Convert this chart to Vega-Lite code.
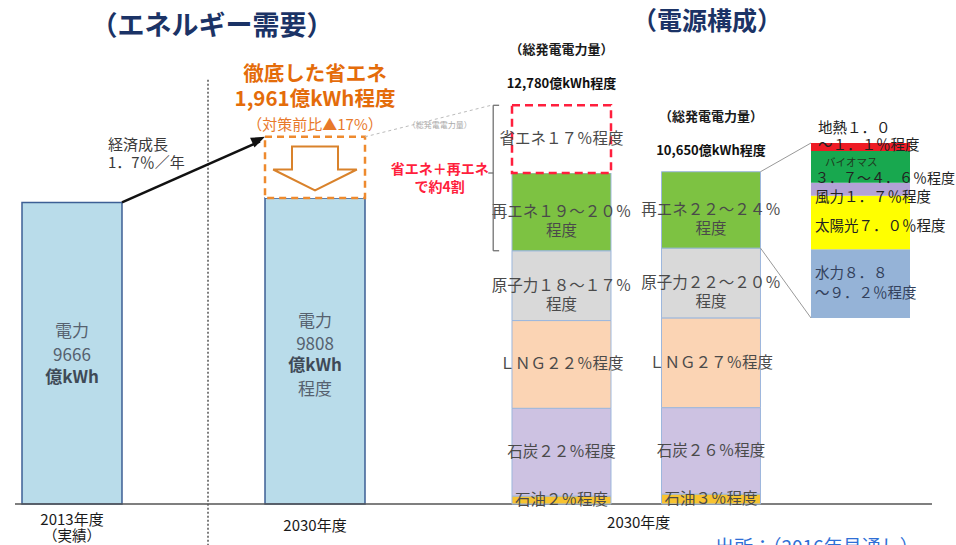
{
  "$schema": "https://vega.github.io/schema/vega-lite/v6.json",
  "width": 956,
  "height": 545,
  "autosize": {"type": "none"},
  "padding": 0,
  "background": "#FFFFFF",
  "config": {
    "view": {"stroke": null},
    "axis": {"disable": true},
    "legend": {"disable": true},
    "text": {"font": "Noto Sans CJK JP"}
  },
  "datasets": {
    "demand": [
      {"year": "2013年度", "kWh": 9666, "note": "（実績）"},
      {"year": "2030年度", "kWh": 9808, "saving": 1961}
    ],
    "mix": [
      {"bar": "総量", "source": "石油", "order": 1, "value": 256, "label": "石油２％程度"},
      {"bar": "総量", "source": "石炭", "order": 2, "value": 2812, "label": "石炭２２％程度"},
      {"bar": "総量", "source": "LNG", "order": 3, "value": 2812, "label": "ＬＮＧ２２％程度"},
      {"bar": "総量", "source": "原子力", "order": 4, "value": 2237, "label": "原子力１８～１７％|程度"},
      {"bar": "総量", "source": "再エネ", "order": 5, "value": 2492, "label": "再エネ１９～２０％|程度"},
      {"bar": "総量", "source": "省エネ", "order": 6, "value": 2171, "label": "省エネ１７％程度"},
      {"bar": "発電", "source": "石油", "order": 1, "value": 320, "label": "石油３％程度"},
      {"bar": "発電", "source": "石炭", "order": 2, "value": 2769, "label": "石炭２６％程度"},
      {"bar": "発電", "source": "LNG", "order": 3, "value": 2876, "label": "ＬＮＧ２７％程度"},
      {"bar": "発電", "source": "原子力", "order": 4, "value": 2236, "label": "原子力２２～２０％|程度"},
      {"bar": "発電", "source": "再エネ", "order": 5, "value": 2449, "label": "再エネ２２～２４％|程度"}
    ],
    "totals": [
      {"bar": "総量", "total": 12780, "label": "12,780億kWh程度"},
      {"bar": "発電", "total": 10650, "label": "10,650億kWh程度"}
    ],
    "renewables": [
      {"bar": "内訳", "source": "水力", "order": 1, "share": 9.0},
      {"bar": "内訳", "source": "太陽光", "order": 2, "share": 7.0},
      {"bar": "内訳", "source": "風力", "order": 3, "share": 1.7},
      {"bar": "内訳", "source": "バイオマス", "order": 4, "share": 4.15},
      {"bar": "内訳", "source": "地熱", "order": 5, "share": 1.05}
    ]
  },
  "layer": [
    {
      "layer": [
        {
          "data": {"name": "demand"},
          "mark": {"type": "bar", "fill": "#B9DCEA", "stroke": "#3D5F95", "strokeWidth": 1.5},
          "encoding": {
            "x": {"field": "year", "type": "nominal", "scale": {"domain": ["2013年度", "2030年度"], "range": [22, 365], "paddingInner": 0.5885, "paddingOuter": 0}},
            "y": {"field": "kWh", "type": "quantitative", "scale": {"domain": [-1314, 16154], "nice": false, "zero": false}},
            "y2": {"datum": 0}
          }
        },
        {
          "data": {"values": [{}]},
          "mark": {"type": "rule", "stroke": "#555555", "strokeWidth": 1.5},
          "encoding": {
            "x": {"datum": "2013年度", "type": "nominal", "bandPosition": -0.07},
            "x2": {"datum": "2030年度", "bandPosition": 6.67},
            "y": {"datum": 0, "type": "quantitative"}
          }
        },
        {
          "data": {"name": "demand"},
          "transform": [
            {"filter": "datum.saving > 0"},
            {"calculate": "datum.kWh + datum.saving", "as": "top"}
          ],
          "mark": {"type": "bar", "fill": "#FFFFFF", "stroke": "#EE8A2E", "strokeWidth": 2.5, "strokeDash": [7, 5]},
          "encoding": {
            "x": {"field": "year", "type": "nominal"},
            "y": {"field": "kWh", "type": "quantitative"},
            "y2": {"field": "top"}
          }
        },
        {
          "data": {"name": "demand"},
          "transform": [
            {"filter": "datum.saving > 0"},
            {"calculate": "datum.kWh + datum.saving / 2", "as": "mid"}
          ],
          "mark": {"type": "point", "shape": "M -0.55 -0.5 L 0.55 -0.5 L 0.55 0.05 L 1 0.05 L 0 0.55 L -1 0.05 L -0.55 0.05 Z", "size": 7000, "filled": true, "fill": "#FFFFFF", "stroke": "#D9822B", "strokeWidth": 2, "opacity": 1},
          "encoding": {
            "x": {"field": "year", "type": "nominal"},
            "y": {"field": "mid", "type": "quantitative"}
          }
        },
        {
          "data": {"name": "demand"},
          "transform": [
            {"filter": "datum.year === '2013年度'"},
            {"calculate": "datum.kWh / 2", "as": "mid"},
            {"calculate": "'電力|' + datum.kWh", "as": "plain"}
          ],
          "mark": {"type": "text", "lineBreak": "|", "fontSize": 17, "lineHeight": 24, "color": "#56616F", "baseline": "middle", "dy": -21},
          "encoding": {
            "x": {"field": "year", "type": "nominal"},
            "y": {"field": "mid", "type": "quantitative"},
            "text": {"field": "plain"}
          }
        },
        {
          "data": {"name": "demand"},
          "transform": [
            {"filter": "datum.year === '2013年度'"},
            {"calculate": "datum.kWh / 2", "as": "mid"}
          ],
          "mark": {"type": "text", "text": "億kWh", "fontSize": 17, "fontWeight": "bold", "color": "#3F4A57", "baseline": "middle", "dy": 25},
          "encoding": {
            "x": {"field": "year", "type": "nominal"},
            "y": {"field": "mid", "type": "quantitative"}
          }
        },
        {
          "data": {"name": "demand"},
          "transform": [
            {"filter": "datum.year === '2030年度'"},
            {"calculate": "datum.kWh / 2", "as": "mid"},
            {"calculate": "'電力|' + datum.kWh", "as": "plain"}
          ],
          "mark": {"type": "text", "lineBreak": "|", "fontSize": 17, "lineHeight": 23.5, "color": "#56616F", "baseline": "middle", "dy": -29},
          "encoding": {
            "x": {"field": "year", "type": "nominal"},
            "y": {"field": "mid", "type": "quantitative"},
            "text": {"field": "plain"}
          }
        },
        {
          "data": {"name": "demand"},
          "transform": [
            {"filter": "datum.year === '2030年度'"},
            {"calculate": "datum.kWh / 2", "as": "mid"}
          ],
          "mark": {"type": "text", "text": "億kWh", "fontSize": 17, "fontWeight": "bold", "color": "#3F4A57", "baseline": "middle", "dy": 15},
          "encoding": {
            "x": {"field": "year", "type": "nominal"},
            "y": {"field": "mid", "type": "quantitative"}
          }
        },
        {
          "data": {"name": "demand"},
          "transform": [
            {"filter": "datum.year === '2030年度'"},
            {"calculate": "datum.kWh / 2", "as": "mid"}
          ],
          "mark": {"type": "text", "text": "程度", "fontSize": 17, "color": "#56616F", "baseline": "middle", "dy": 39},
          "encoding": {
            "x": {"field": "year", "type": "nominal"},
            "y": {"field": "mid", "type": "quantitative"}
          }
        },
        {
          "data": {"name": "demand"},
          "transform": [{"filter": "datum.note"}],
          "mark": {"type": "text", "fontSize": 15, "color": "#1A1A1A", "baseline": "middle"},
          "encoding": {
            "x": {"field": "year", "type": "nominal"},
            "y": {"datum": -500, "type": "quantitative"},
            "text": {"field": "year"}
          }
        },
        {
          "data": {"name": "demand"},
          "transform": [{"filter": "!datum.note"}],
          "mark": {"type": "text", "fontSize": 15, "color": "#1A1A1A", "baseline": "middle"},
          "encoding": {
            "x": {"field": "year", "type": "nominal"},
            "y": {"datum": -720, "type": "quantitative"},
            "text": {"field": "year"}
          }
        },
        {
          "data": {"name": "demand"},
          "transform": [{"filter": "datum.note"}],
          "mark": {"type": "text", "fontSize": 14.5, "color": "#1A1A1A", "baseline": "middle"},
          "encoding": {
            "x": {"field": "year", "type": "nominal"},
            "y": {"datum": -1060, "type": "quantitative"},
            "text": {"field": "note"}
          }
        },
        {
          "data": {"values": [{}]},
          "mark": {"type": "rule", "stroke": "#555555", "strokeWidth": 1.5, "strokeDash": [2, 2]},
          "encoding": {
            "x": {"datum": "2030年度", "type": "nominal", "bandPosition": -0.57},
            "y": {"datum": 13600, "type": "quantitative"},
            "y2": {"datum": -1500}
          }
        },
        {
          "data": {"values": [{}]},
          "mark": {"type": "rule", "stroke": "#111111", "strokeWidth": 2.5},
          "encoding": {
            "x": {"datum": "2013年度", "type": "nominal", "bandPosition": 1},
            "y": {"datum": 9666, "type": "quantitative"},
            "x2": {"datum": "2030年度", "bandPosition": -0.05},
            "y2": {"datum": 11620}
          }
        },
        {
          "data": {"values": [{}]},
          "mark": {"type": "point", "shape": "M 0 0 L -2 -0.75 L -2 0.75 Z", "size": 196, "filled": true, "fill": "#111111", "stroke": null, "angle": -24.6, "opacity": 1},
          "encoding": {
            "x": {"datum": "2030年度", "type": "nominal", "bandPosition": 0},
            "y": {"datum": 11769, "type": "quantitative"}
          }
        },
        {
          "data": {"values": [{}]},
          "mark": {"type": "text", "text": "経済成長|1．7％／年", "lineBreak": "|", "fontSize": 15, "lineHeight": 18, "align": "left", "baseline": "middle", "color": "#3A3A3A"},
          "encoding": {
            "x": {"datum": "2013年度", "type": "nominal", "bandPosition": 0.86},
            "y": {"datum": 11500, "type": "quantitative"}
          }
        },
        {
          "data": {"values": [{}]},
          "mark": {"type": "text", "text": "徹底した省エネ", "fontSize": 20.5, "fontWeight": "bold", "baseline": "middle", "color": "#E46C0A"},
          "encoding": {
            "x": {"datum": "2030年度", "type": "nominal"},
            "y": {"datum": 13750, "type": "quantitative"}
          }
        },
        {
          "data": {"values": [{}]},
          "mark": {"type": "text", "text": "1,961億kWh程度", "fontSize": 20.5, "fontWeight": "bold", "baseline": "middle", "color": "#E46C0A"},
          "encoding": {
            "x": {"datum": "2030年度", "type": "nominal"},
            "y": {"datum": 12950, "type": "quantitative"}
          }
        },
        {
          "data": {"values": [{}]},
          "mark": {"type": "text", "text": "（対策前比▲17%）", "fontSize": 15, "baseline": "middle", "color": "#E8792A"},
          "encoding": {
            "x": {"datum": "2030年度", "type": "nominal"},
            "y": {"datum": 12160, "type": "quantitative"}
          }
        },
        {
          "data": {"values": [{}]},
          "mark": {"type": "text", "text": "（エネルギー需要）", "fontSize": 27, "fontWeight": "bold", "baseline": "middle", "color": "#1B3366"},
          "encoding": {
            "x": {"datum": "2013年度", "type": "nominal", "bandPosition": 1.9},
            "y": {"datum": 15288, "type": "quantitative"}
          }
        }
      ]
    },
    {
      "layer": [
        {
          "layer": [
            {
              "data": {"name": "mix"},
              "transform": [
                {"stack": "value", "groupby": ["bar"], "sort": [{"field": "order"}], "as": ["lo", "hi"]},
                {"filter": "datum.source !== '省エネ'"}
              ],
              "mark": {"type": "bar", "stroke": "#9DB7DD", "strokeWidth": 1},
              "encoding": {
                "x": {"field": "bar", "type": "nominal", "scale": {"domain": ["総量", "発電", "内訳"], "range": [512, 910], "paddingInner": 0.3378, "paddingOuter": 0}},
                "y": {"field": "lo", "type": "quantitative", "scale": {"domain": [-1314, 16154], "nice": false, "zero": false}},
                "y2": {"field": "hi"},
                "color": {"field": "source", "type": "nominal", "legend": null, "scale": {"domain": ["石油", "石炭", "LNG", "原子力", "再エネ"], "range": ["#F7C331", "#CDC2E2", "#FBD4B4", "#D9D9D9", "#7DC242"]}}
              }
            },
            {
              "data": {"name": "mix"},
              "transform": [
                {"stack": "value", "groupby": ["bar"], "sort": [{"field": "order"}], "as": ["lo", "hi"]},
                {"filter": "datum.source === '省エネ'"}
              ],
              "mark": {"type": "bar", "fill": "#FFFFFF", "stroke": "#FF1F3D", "strokeWidth": 2.5, "strokeDash": [8, 5]},
              "encoding": {
                "x": {"field": "bar", "type": "nominal"},
                "y": {"field": "lo", "type": "quantitative"},
                "y2": {"field": "hi"}
              }
            },
            {
              "data": {"name": "mix"},
              "transform": [
                {"stack": "value", "groupby": ["bar"], "sort": [{"field": "order"}], "as": ["lo", "hi"]},
                {"calculate": "(datum.lo + datum.hi) / 2", "as": "mid"}
              ],
              "mark": {"type": "text", "lineBreak": "|", "fontSize": 15.5, "lineHeight": 19, "baseline": "middle", "color": "#4A4A4A"},
              "encoding": {
                "x": {"field": "bar", "type": "nominal"},
                "y": {"field": "mid", "type": "quantitative"},
                "text": {"field": "label"}
              }
            },
            {
              "data": {"name": "totals"},
              "mark": {"type": "text", "text": "（総発電電力量）", "fontSize": 13, "fontWeight": "bold", "baseline": "middle", "dy": -55, "color": "#1A1A1A"},
              "encoding": {
                "x": {"field": "bar", "type": "nominal"},
                "y": {"field": "total", "type": "quantitative"}
              }
            },
            {
              "data": {"name": "totals"},
              "mark": {"type": "text", "fontSize": 13, "fontWeight": "bold", "baseline": "middle", "dy": -21, "color": "#111111"},
              "encoding": {
                "x": {"field": "bar", "type": "nominal"},
                "y": {"field": "total", "type": "quantitative"},
                "text": {"field": "label"}
              }
            },
            {
              "data": {"values": [{}]},
              "mark": {"type": "rule", "stroke": "#666666", "strokeWidth": 1.2},
              "encoding": {
                "x": {"datum": "総量", "type": "nominal", "bandPosition": -0.19},
                "y": {"datum": 8117, "type": "quantitative"},
                "y2": {"datum": 12780}
              }
            },
            {
              "data": {"values": [{}]},
              "mark": {"type": "rule", "stroke": "#666666", "strokeWidth": 1.2},
              "encoding": {
                "x": {"datum": "総量", "type": "nominal", "bandPosition": -0.19},
                "x2": {"datum": "総量", "bandPosition": -0.13},
                "y": {"datum": 12780, "type": "quantitative"}
              }
            },
            {
              "data": {"values": [{}]},
              "mark": {"type": "rule", "stroke": "#666666", "strokeWidth": 1.2},
              "encoding": {
                "x": {"datum": "総量", "type": "nominal", "bandPosition": -0.24},
                "x2": {"datum": "総量", "bandPosition": -0.19},
                "y": {"datum": 10609, "type": "quantitative"}
              }
            },
            {
              "data": {"values": [{}]},
              "mark": {"type": "rule", "stroke": "#666666", "strokeWidth": 1.2},
              "encoding": {
                "x": {"datum": "総量", "type": "nominal", "bandPosition": -0.19},
                "x2": {"datum": "総量", "bandPosition": -0.13},
                "y": {"datum": 8117, "type": "quantitative"}
              }
            },
            {
              "data": {"values": [{}]},
              "mark": {"type": "rule", "stroke": "#BBBBBB", "strokeWidth": 1, "strokeDash": [3, 3]},
              "encoding": {
                "x": {"datum": "総量", "type": "nominal", "bandPosition": -1.485},
                "y": {"datum": 11769, "type": "quantitative"},
                "x2": {"datum": "総量", "bandPosition": -0.21},
                "y2": {"datum": 12780}
              }
            },
            {
              "data": {"values": [{}]},
              "mark": {"type": "text", "text": "（総発電電力量）", "fontSize": 8, "baseline": "middle", "color": "#AAAAAA"},
              "encoding": {
                "x": {"datum": "総量", "type": "nominal", "bandPosition": -0.73},
                "y": {"datum": 12115, "type": "quantitative"}
              }
            },
            {
              "data": {"values": [{}]},
              "mark": {"type": "text", "text": "省エネ＋再エネ|で約4割", "lineBreak": "|", "fontSize": 14, "lineHeight": 18, "fontWeight": "bold", "baseline": "middle", "color": "#FF1F3D"},
              "encoding": {
                "x": {"datum": "総量", "type": "nominal", "bandPosition": -0.73},
                "y": {"datum": 10704, "type": "quantitative"}
              }
            },
            {
              "data": {"values": [{}]},
              "mark": {"type": "text", "text": "2030年度", "fontSize": 15, "baseline": "middle", "color": "#1A1A1A"},
              "encoding": {
                "x": {"datum": "総量", "type": "nominal", "bandPosition": 1.28},
                "y": {"datum": -600, "type": "quantitative"}
              }
            },
            {
              "data": {"values": [{}]},
              "mark": {"type": "text", "text": "（電源構成）", "fontSize": 25, "fontWeight": "bold", "baseline": "middle", "color": "#1B3366"},
              "encoding": {
                "x": {"datum": "発電", "type": "nominal", "bandPosition": 0.46},
                "y": {"datum": 15449, "type": "quantitative"}
              }
            },
            {
              "data": {"values": [{}]},
              "mark": {"type": "text", "text": "出所：（2016年見通し）", "fontSize": 19, "align": "left", "baseline": "middle", "color": "#2F6FD6"},
              "encoding": {
                "x": {"datum": "発電", "type": "nominal", "bandPosition": 0.54},
                "y": {"datum": -1400, "type": "quantitative"}
              }
            }
          ]
        },
        {
          "layer": [
            {
              "data": {"name": "renewables"},
              "transform": [
                {"stack": "share", "groupby": ["bar"], "sort": [{"field": "order"}], "as": ["lo", "hi"]}
              ],
              "mark": {"type": "bar"},
              "encoding": {
                "x": {"field": "bar", "type": "nominal"},
                "y": {"field": "lo", "type": "quantitative", "scale": {"domain": [-29.704, 41.612], "nice": false, "zero": false}},
                "y2": {"field": "hi"},
                "color": {"field": "source", "type": "nominal", "legend": null, "scale": {"domain": ["水力", "太陽光", "風力", "バイオマス", "地熱"], "range": ["#95B3D7", "#FFFF00", "#B3A2D6", "#18A84F", "#EE1C25"]}}
              }
            },
            {
              "data": {"values": [{}]},
              "mark": {"type": "rule", "stroke": "#999999", "strokeWidth": 1},
              "encoding": {
                "x": {"datum": "発電", "type": "nominal", "bandPosition": 1},
                "y": {"datum": 19.14, "type": "quantitative"},
                "x2": {"datum": "内訳", "bandPosition": 0},
                "y2": {"datum": 22.9}
              }
            },
            {
              "data": {"values": [{}]},
              "mark": {"type": "rule", "stroke": "#999999", "strokeWidth": 1},
              "encoding": {
                "x": {"datum": "発電", "type": "nominal", "bandPosition": 1},
                "y": {"datum": 9.15, "type": "quantitative"},
                "x2": {"datum": "内訳", "bandPosition": 0},
                "y2": {"datum": 0}
              }
            },
            {
              "data": {"name": "renewables"},
              "transform": [
                {"stack": "share", "groupby": ["bar"], "sort": [{"field": "order"}], "as": ["lo", "hi"]},
                {"filter": "datum.source === '地熱'"}
              ],
              "mark": {"type": "text", "text": "地熱１．０|　～１．１％程度", "lineBreak": "|", "fontSize": 14.5, "lineHeight": 17, "align": "left", "baseline": "middle", "dx": 7, "dy": -14, "color": "#222222"},
              "encoding": {
                "x": {"field": "bar", "type": "nominal", "bandPosition": 0},
                "y": {"field": "hi", "type": "quantitative"}
              }
            },
            {
              "data": {"name": "renewables"},
              "transform": [
                {"stack": "share", "groupby": ["bar"], "sort": [{"field": "order"}], "as": ["lo", "hi"]},
                {"filter": "datum.source === 'バイオマス'"},
                {"calculate": "(datum.lo + datum.hi) / 2", "as": "mid"}
              ],
              "mark": {"type": "text", "text": "バイオマス", "fontSize": 10.5, "align": "left", "baseline": "middle", "dx": 14, "dy": -4, "color": "#1E3A1E"},
              "encoding": {
                "x": {"field": "bar", "type": "nominal", "bandPosition": 0},
                "y": {"field": "mid", "type": "quantitative"}
              }
            },
            {
              "data": {"name": "renewables"},
              "transform": [
                {"stack": "share", "groupby": ["bar"], "sort": [{"field": "order"}], "as": ["lo", "hi"]},
                {"filter": "datum.source === 'バイオマス'"},
                {"calculate": "(datum.lo + datum.hi) / 2", "as": "mid"}
              ],
              "mark": {"type": "text", "text": "３．７～４．６％程度", "fontSize": 14, "align": "left", "baseline": "middle", "dx": 4, "dy": 12, "color": "#222222"},
              "encoding": {
                "x": {"field": "bar", "type": "nominal", "bandPosition": 0},
                "y": {"field": "mid", "type": "quantitative"}
              }
            },
            {
              "data": {"name": "renewables"},
              "transform": [
                {"stack": "share", "groupby": ["bar"], "sort": [{"field": "order"}], "as": ["lo", "hi"]},
                {"filter": "datum.source === '風力'"},
                {"calculate": "(datum.lo + datum.hi) / 2", "as": "mid"}
              ],
              "mark": {"type": "text", "text": "風力１．７％程度", "fontSize": 14.5, "align": "left", "baseline": "middle", "dx": 4, "dy": 9, "color": "#222222"},
              "encoding": {
                "x": {"field": "bar", "type": "nominal", "bandPosition": 0},
                "y": {"field": "mid", "type": "quantitative"}
              }
            },
            {
              "data": {"name": "renewables"},
              "transform": [
                {"stack": "share", "groupby": ["bar"], "sort": [{"field": "order"}], "as": ["lo", "hi"]},
                {"filter": "datum.source === '太陽光'"},
                {"calculate": "(datum.lo + datum.hi) / 2", "as": "mid"}
              ],
              "mark": {"type": "text", "text": "太陽光７．０％程度", "fontSize": 14.5, "align": "left", "baseline": "middle", "dx": 4, "dy": 5, "color": "#222222"},
              "encoding": {
                "x": {"field": "bar", "type": "nominal", "bandPosition": 0},
                "y": {"field": "mid", "type": "quantitative"}
              }
            },
            {
              "data": {"name": "renewables"},
              "transform": [
                {"stack": "share", "groupby": ["bar"], "sort": [{"field": "order"}], "as": ["lo", "hi"]},
                {"filter": "datum.source === '水力'"},
                {"calculate": "(datum.lo + datum.hi) / 2", "as": "mid"}
              ],
              "mark": {"type": "text", "text": "水力８．８|　～９．２％程度", "lineBreak": "|", "fontSize": 14.5, "lineHeight": 20, "align": "left", "baseline": "middle", "dx": 4, "dy": -10, "color": "#33415C"},
              "encoding": {
                "x": {"field": "bar", "type": "nominal", "bandPosition": 0},
                "y": {"field": "mid", "type": "quantitative"}
              }
            }
          ]
        }
      ],
      "resolve": {"scale": {"y": "independent", "color": "independent"}}
    }
  ],
  "resolve": {"scale": {"x": "independent", "y": "independent"}}
}
